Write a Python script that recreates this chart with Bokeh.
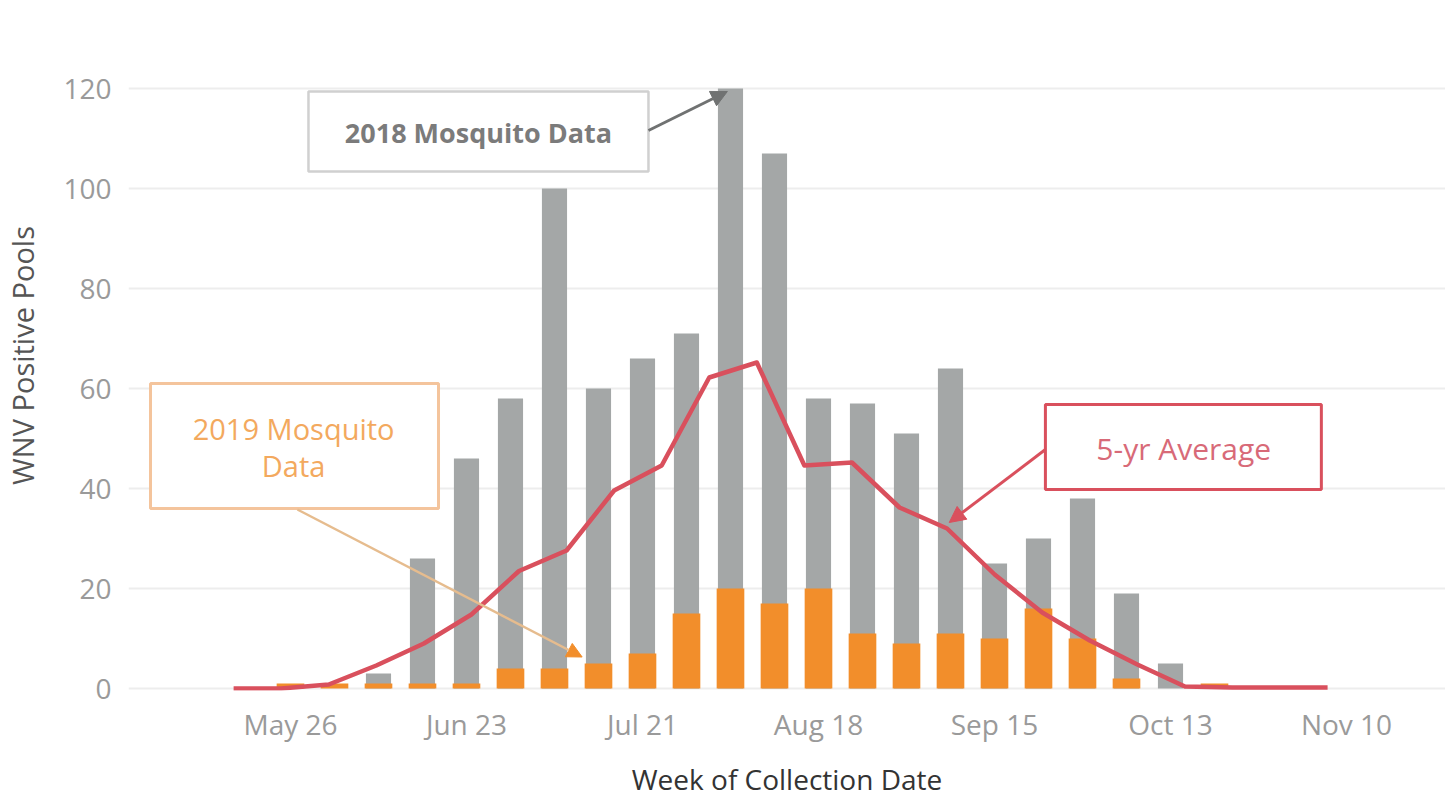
import pandas as pd
from bokeh.plotting import figure
from bokeh.models import (Range1d, FixedTicker, DatetimeTickFormatter, BoxAnnotation,
                          Label, Arrow, NormalHead)
from bokeh.embed import file_html
from bokeh.resources import INLINE

# ---------------- data ----------------
weeks = ["2019-05-26", "2019-06-02", "2019-06-09", "2019-06-16", "2019-06-23", "2019-06-30",
         "2019-07-07", "2019-07-14", "2019-07-21", "2019-07-28", "2019-08-04", "2019-08-11",
         "2019-08-18", "2019-08-25", "2019-09-01", "2019-09-08", "2019-09-15", "2019-09-22",
         "2019-09-29", "2019-10-06", "2019-10-13", "2019-10-20"]
pools_2018 = [0, 0, 3, 26, 46, 58, 100, 60, 66, 71, 120, 107, 58, 57, 51, 64, 25, 30, 38, 19, 5, 0]
pools_2019 = [1, 1, 1, 1, 1, 4, 4, 5, 7, 15, 20, 17, 20, 11, 9, 11, 10, 16, 10, 2, 0, 1]

avg_week_no = list(range(20, 44))
avg_5yr = [0, 0, 0.8, 4.6, 9, 14.8, 23.5, 27.6, 39.6, 44.6, 62.2, 65.2,
           44.6, 45.2, 36.2, 32, 22.8, 15.2, 9.6, 4.8, 0.4, 0.2, 0.2, 0.2]

tick_dates = ["2019-05-26", "2019-06-23", "2019-07-21", "2019-08-18",
              "2019-09-15", "2019-10-13", "2019-11-10"]
y_ticks = [0, 20, 40, 60, 80, 100, 120]

# ---------------- helpers ----------------
DAY = 86400000.0
BASE = pd.Timestamp("2019-05-26").value / 1e6


def d(days):
    """ms timestamp at a fractional day offset from May 26 2019"""
    return BASE + days * DAY


FONT = "Open Sans"
GRAY = "#a4a7a7"
ORANGE = "#f28e2b"
RED = "#d9505d"

week_x = pd.to_datetime(weeks)

p = figure(width=1445, height=800, x_axis_type="datetime",
           x_range=Range1d(d(-25.77), d(-25.77 + 209.52)),
           y_range=Range1d(-0.4, 133.6),
           output_backend="svg", toolbar_location=None,
           min_border_left=128, min_border_right=0, min_border_top=20, min_border_bottom=110)
p.extra_x_ranges = {"avg": Range1d(17.79, 17.79 + 27.689)}

p.outline_line_color = None
p.background_fill_color = "white"
p.border_fill_color = "white"
p.xgrid.grid_line_color = None
p.ygrid.grid_line_color = "#ededed"
p.ygrid.grid_line_width = 2

# bars
p.vbar(x=week_x, top=pools_2018, width=4.0 * DAY, color=GRAY, line_color=None)
p.vbar(x=week_x, top=pools_2019, width=4.4 * DAY, color=ORANGE, line_color=None)
# 5-yr average line
p.line(x=avg_week_no, y=avg_5yr, x_range_name="avg", line_color=RED, line_width=4.5,
       line_join="round")

# axes
xa = p.xaxis[0]
xa.ticker = FixedTicker(ticks=[pd.Timestamp(t).value / 1e6 for t in tick_dates])
fmt = "%b %d"
xa.formatter = DatetimeTickFormatter(days=fmt, months=fmt, years=fmt, hours=fmt,
                                     hourmin=fmt, minutes=fmt, seconds=fmt)
xa.axis_label = "Week of Collection Date"
ya = p.yaxis[0]
ya.ticker = FixedTicker(ticks=y_ticks)
ya.axis_label = "WNV Positive Pools"
for ax in (xa, ya):
    ax.axis_line_color = None
    ax.major_tick_line_color = None
    ax.minor_tick_line_color = None
    ax.major_label_text_font = FONT
    ax.major_label_text_font_size = "28px"
    ax.major_label_text_color = "#9a9a9a"
    ax.axis_label_text_font = FONT
    ax.axis_label_text_font_style = "normal"
    ax.axis_label_text_font_size = "28px"
xa.major_label_standoff = 8
xa.axis_label_standoff = 14
xa.axis_label_text_color = "#333333"
ya.major_label_standoff = 11
ya.axis_label_standoff = 18
ya.axis_label_text_color = "#555555"
ya.axis_label_text_font_size = "29px"

# ---------------- annotations ----------------
# 2018 box
p.add_layout(BoxAnnotation(left=d(2.86), right=d(56.95), top=119.4, bottom=103.4,
                           fill_color="white", fill_alpha=1.0,
                           line_color="#d0d0d0", line_alpha=1.0, line_width=2.5))
p.add_layout(Label(x=d(29.9), y=111.3, text="2018 Mosquito Data", text_align="center",
                   text_baseline="middle", text_font=FONT, text_font_size="27px",
                   text_font_style="bold", text_color="#7b7b7b"))
p.add_layout(Arrow(x_start=d(56.95), y_start=111.6, x_end=d(69.5), y_end=119.4,
                   line_color="#707272", line_width=3,
                   end=NormalHead(size=16, fill_color="#707272", line_color="#707272")))

# 2019 box
p.add_layout(BoxAnnotation(left=d(-22.27), right=d(23.55), top=61.0, bottom=36.0,
                           fill_color="white", fill_alpha=1.0,
                           line_color="#f4c49c", line_alpha=1.0, line_width=3))
p.add_layout(Label(x=d(0.5), y=52.0, text="2019 Mosquito", text_align="center",
                   text_baseline="middle", text_font=FONT, text_font_size="29px",
                   text_color="#f3a95e"))
p.add_layout(Label(x=d(0.5), y=44.6, text="Data", text_align="center",
                   text_baseline="middle", text_font=FONT, text_font_size="29px",
                   text_color="#f3a95e"))
p.add_layout(Arrow(x_start=d(1.1), y_start=35.8, x_end=d(46.4), y_end=6.3,
                   line_color="#e6bc8e", line_width=2.5,
                   end=NormalHead(size=15, fill_color=ORANGE, line_color=ORANGE)))

# 5-yr box
p.add_layout(BoxAnnotation(left=d(120.1), right=d(164.0), top=56.8, bottom=39.8,
                           fill_color="white", fill_alpha=1.0,
                           line_color=RED, line_alpha=1.0, line_width=3))
p.add_layout(Label(x=d(142.1), y=48.0, text="5-yr Average", text_align="center",
                   text_baseline="middle", text_font=FONT, text_font_size="30px",
                   text_color="#d86a78"))
p.add_layout(Arrow(x_start=d(120.1), y_start=47.8, x_end=d(104.8), y_end=33.2,
                   line_color=RED, line_width=3,
                   end=NormalHead(size=16, fill_color=RED, line_color=RED)))

open("out.html", "w").write(file_html(p, INLINE))
